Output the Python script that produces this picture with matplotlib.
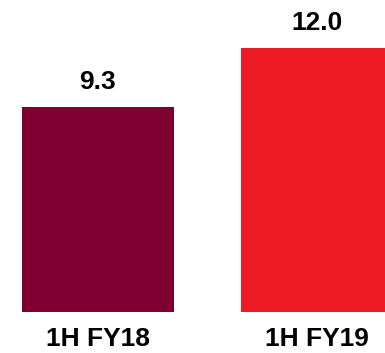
import matplotlib
matplotlib.use("Agg")
import matplotlib.pyplot as plt

periods = ["1H FY18", "1H FY19"]
values = [9.3, 12.0]
colors = ["#7F0030", "#ED1C24"]

plt.rcParams["font.family"] = ["Liberation Sans", "DejaVu Sans"]

W, H = 385, 353
fig = plt.figure(figsize=(W / 100, H / 100), dpi=100)
base_px = 41
ax = fig.add_axes([0, base_px / H, 1, (H - base_px) / H])

x = list(range(len(periods)))
ax.bar(x, values, width=0.694, color=colors)

ax.set_xlim(-98 / 219, (W - 98) / 219)
ax.set_ylim(0, (H - base_px) / 22)

for xi, v in zip(x, values):
    ax.annotate(f"{v:.1f}", (xi, v), xytext=(0, 13), textcoords="offset points",
                ha="center", va="baseline", fontsize=19, fontweight="bold", color="black")

ax.set_xticks(x)
ax.set_xticklabels(periods, fontsize=19, fontweight="bold")
ax.tick_params(axis="x", length=0, pad=11)
ax.set_yticks([])
for s in ax.spines.values():
    s.set_visible(False)

fig.savefig("out.png", dpi=100)
